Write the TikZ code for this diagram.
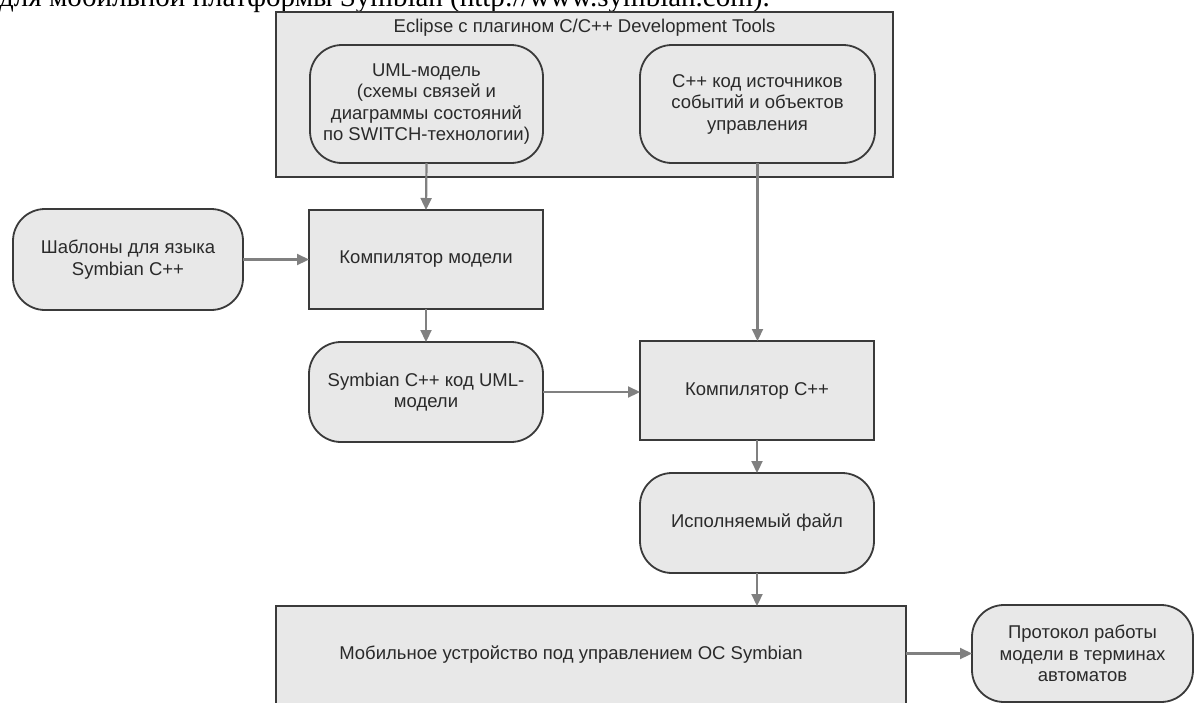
\documentclass[tikz,border=0pt]{standalone}
\usepackage{fontspec}
\setmainfont{Liberation Sans}
\newfontfamily\serifru{Liberation Serif}
\usetikzlibrary{arrows.meta}
\definecolor{boxfill}{HTML}{E8E8E8}
\definecolor{boxline}{HTML}{3A3A3A}
\definecolor{arrowc}{HTML}{808080}
\definecolor{txt}{HTML}{2A2A2A}
\begin{document}
\begin{tikzpicture}[x=1pt,y=-1pt,
  lbl/.style={text=txt, font=\fontsize{18.5}{21.5}\selectfont, align=center, inner sep=0pt},
  base/.style={lbl, fill=boxfill, draw=boxline, line width=1.8pt, outer sep=0pt},
  rbox/.style={base, rectangle},
  rnd/.style={base, rounded corners=32pt},
  conn/.style={draw=arrowc, line width=2.2pt, -{Triangle[length=12pt,width=11pt]}},
]
\useasboundingbox (0,0) rectangle (1195,702);
\clip (0,0) rectangle (1195,702);
\fill[white] (0,0) rectangle (1195,702);
% cut-off line of text above the figure
\node[anchor=base west, inner sep=0pt, text=black, font=\serifru\fontsize{29}{29}\selectfont] (topline) at (-1,6.5) {для мобильной платформы Symbian (http://www.symbian.com).};
% Eclipse frame
\node[rbox, minimum width=617pt, minimum height=165pt] (eclipse) at (584.5,94.5) {};
\node[lbl] (eclipselbl) at (584.5,28) {Eclipse с плагином C/C++ Development Tools};
\node[rnd, minimum width=233pt, minimum height=118pt] (uml) at (426.5,104) {UML-модель\\(схемы связей и\\диаграммы состояний\\по SWITCH-технологии)};
\node[rnd, minimum width=235pt, minimum height=118pt] (cppsrc) at (757.5,104) {C++ код источников\\событий и объектов\\управления};
% middle
\node[rnd, minimum width=230pt, minimum height=101pt] (tmpl) at (128,259.5) {Шаблоны для языка\\Symbian C++};
\node[rbox, minimum width=234pt, minimum height=99pt] (compm) at (426,259.5) {Компилятор модели};
\node[rnd, minimum width=234pt, minimum height=100pt] (symcode) at (426,392) {Symbian C++ код UML-\\модели};
\node[rbox, minimum width=234pt, minimum height=99pt] (compc) at (757,390.5) {Компилятор C++};
\node[rnd, minimum width=234pt, minimum height=100pt] (exe) at (757,523) {Исполняемый файл};
% bottom
\node[rbox, minimum width=630pt, minimum height=98pt] (mobile) at (591,655) {};
\node[lbl] (mobilelbl) at (571,655) {Мобильное устройство под управлением ОС Symbian};
\node[rnd, minimum width=221pt, minimum height=97pt] (proto) at (1082.5,653.5) {Протокол работы\\модели в терминах\\автоматов};
% connectors
\draw[conn] (uml.south) -- (compm.north);
\draw[conn] (tmpl.east) -- (compm.west);
\draw[conn] (compm.south) -- (symcode.north);
\draw[conn] (cppsrc.south) -- (cppsrc.south |- compc.north);
\draw[conn] (symcode.east) -- (symcode.east -| compc.west);
\draw[conn] (compc.south) -- (exe.north);
\draw[conn] (exe.south) -- (exe.south |- mobile.north);
\draw[conn] (proto.west -| mobile.east) -- (proto.west);
\end{tikzpicture}
\end{document}
